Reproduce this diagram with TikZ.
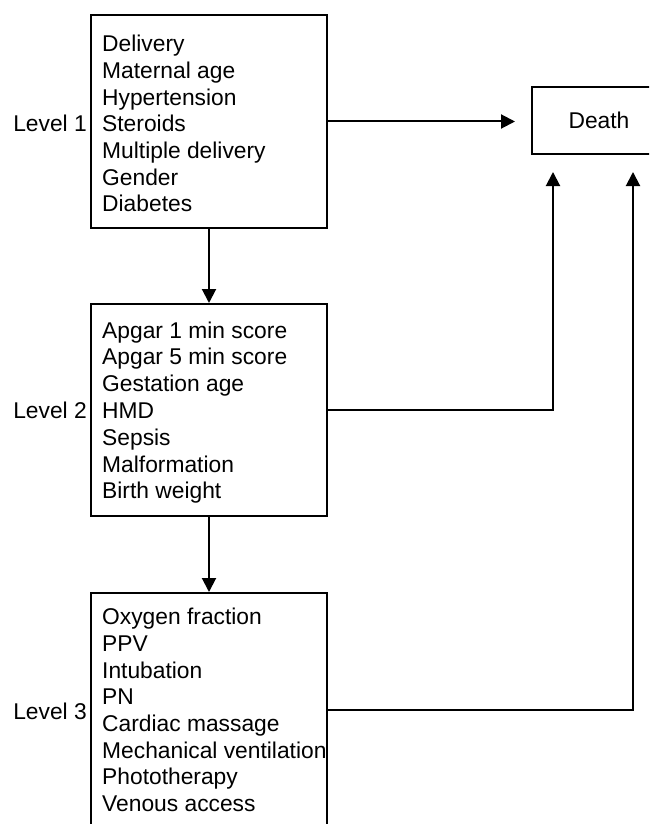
\documentclass[tikz,border=0pt]{standalone}
\usepackage{fontspec}
\setmainfont{Liberation Sans}
\usetikzlibrary{arrows.meta}
\begin{document}
\begin{tikzpicture}[x=1pt,y=-1pt,
  box/.style={draw=black, line width=2pt, rectangle, inner sep=0pt},
  item/.style={inner sep=0pt, anchor=base west, font=\fontsize{22.8}{26.6}\selectfont, text=black},
  lvl/.style={inner sep=0pt, anchor=base east, font=\fontsize{22.8}{26.6}\selectfont, text=black},
  arr/.style={line width=2pt, -{Triangle[length=14pt,width=14pt]}}
]
\useasboundingbox (0,0) rectangle (649,824);
\clip (0,0) rectangle (649,824);
\fill[white] (0,0) rectangle (649,824);

% boxes
\node[box, minimum width=236pt, minimum height=213pt] (b1) at (209,121.5) {};
\node[box, minimum width=236pt, minimum height=212pt] (b2) at (209,410) {};
\node[box, minimum width=236pt, minimum height=234pt] (b3) at (209,710) {};
\node[box, minimum width=134pt, minimum height=67pt, font=\fontsize{22.8}{26.6}\selectfont, text=black] (death) at (599,120.5) {Death};

% list texts
\foreach [count=\i] \t in {Delivery, Maternal age, Hypertension, Steroids, Multiple delivery, Gender, Diabetes}
  \node[item] (t1-\i) at (102, 52+26.6*\i-26.6) {\t};
\foreach [count=\i] \t in {Apgar 1 min score, Apgar 5 min score, Gestation age, HMD, Sepsis, Malformation, Birth weight}
  \node[item] (t2-\i) at (102, 338+26.8*\i-26.8) {\t};
\foreach [count=\i] \t in {Oxygen fraction, PPV, Intubation, PN, Cardiac massage, Mechanical ventilation, Phototherapy, Venous access}
  \node[item] (t3-\i) at (102, 624.6+26.7*\i-26.7) {\t};

% level labels
\node[lvl] (l1) at (87,131.8) {Level 1};
\node[lvl] (l2) at (87,418.4) {Level 2};
\node[lvl] (l3) at (87,719) {Level 3};

% connectors
\coordinate (c2) at (553,0);
\coordinate (c3) at (633,0);
\draw[arr, shorten >=16pt] (b1.east) -- (b1.east -| death.west);
\draw[arr] (b1.south) -- (b2.north);
\draw[arr] (b2.south) -- (b3.north);
\draw[arr, shorten >=17pt] (b2.east) -| (death.south -| c2);
\draw[arr, shorten >=17pt] (b3.east) -| (death.south -| c3);
\end{tikzpicture}
\end{document}
